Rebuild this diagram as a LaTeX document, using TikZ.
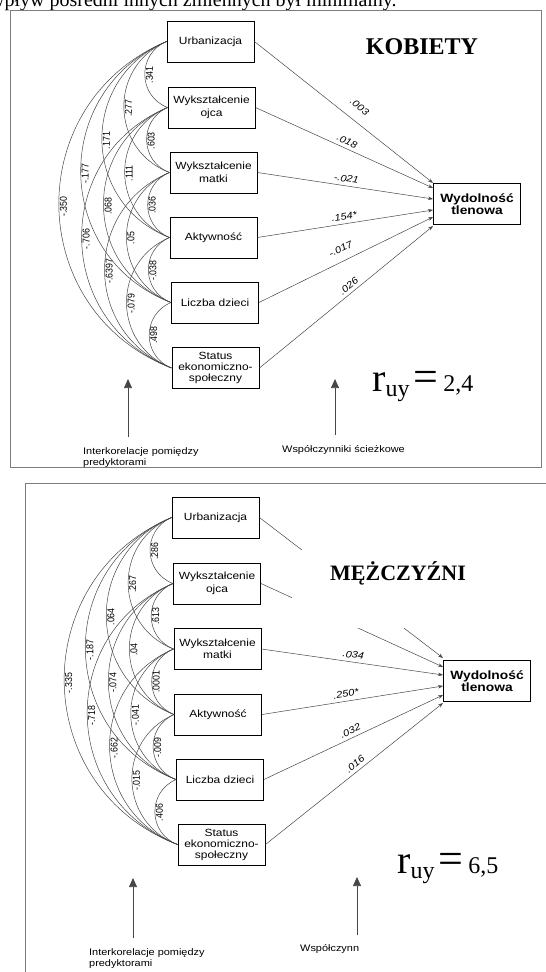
\documentclass[tikz,border=0pt]{standalone}
\usepackage{fontspec}
\setmainfont{Liberation Serif}
\newfontfamily\diagfont[FakeStretch=1.15]{Liberation Sans}
\newfontfamily\vertfont[FakeStretch=0.88]{Liberation Sans}
\usetikzlibrary{arrows.meta}

\begin{document}
\begin{tikzpicture}[x=1pt, y=1pt]
    % --- GLOBAL DEFINITIONS ---
    \def\bw{87} % box width
    \def\bh{41} % box height

    % Custom colors
    \definecolor{framegray}{RGB}{125,125,125}
    \definecolor{linegray}{RGB}{70,70,70}

    \tikzset{
        varbox/.style={draw, line width=0.9pt, minimum width=\bw pt, minimum height=\bh pt, inner sep=1pt, align=center, font=\diagfont\fontsize{10.4}{12.5}\selectfont},
        outbox/.style={varbox, font=\diagfont\bfseries\fontsize{12}{12.5}\selectfont},
        corr/.style={draw=linegray, line width=0.5pt, bend right=68, looseness=1.24},
        clab/.style={midway, anchor=north, rotate=90, inner sep=0.8pt, font=\vertfont\fontsize{10}{10}\selectfont},
        pathline/.style={draw=linegray, line width=0.5pt, -{Stealth[length=5pt, width=3.5pt]}},
        plab/.style={sloped, above=3pt, inner sep=0.5pt, font=\diagfont\itshape\fontsize{9.5}{10}\selectfont},
        noteline/.style={draw=linegray, line width=0.7pt, -{Triangle[length=9pt, width=8pt]}},
        note/.style={align=left, anchor=north west, inner sep=0pt, font=\diagfont\fontsize{9.5}{11}\selectfont},
        sextitle/.style={inner sep=0pt, font=\bfseries\fontsize{24}{24}\selectfont}
    }
    \newcommand\ruy[1]{\fontsize{40}{40}\selectfont r\raisebox{-5pt}{\fontsize{24}{24}\selectfont uy}\kern4pt{\fontsize{44}{44}\selectfont =}\kern5pt\fontsize{24}{24}\selectfont #1}

    \useasboundingbox (0,0) rectangle (546,-972);
    \clip (0,0) rectangle (546,-972);

    % page text cut off above the figure
    \node[anchor=base west, inner sep=0pt, font=\fontsize{20}{20}\selectfont] (head) at (-10,-6) {wpływ pośredni innych zmiennych był minimalny.};

    % frames
    \draw[framegray, line width=0.8pt] (10,-10) rectangle (541,-467);
    \draw[framegray, line width=0.8pt] (546,-483) -- (25,-483) -- (25,-990);

    % KOBIETY
    \node[varbox] (kUrb) at (210.5,-41.5) {Urbanizacja};
    \node[varbox] (kOjc) at (211.5,-107.5) {Wykształcenie\\ojca};
    \node[varbox] (kMat) at (213.5,-172.5) {Wykształcenie\\matki};
    \node[varbox] (kAkt) at (213.5,-237.5) {Aktywność};
    \node[varbox] (kLic) at (215,-302.5) {Liczba dzieci};
    \node[varbox] (kSta) at (215.5,-368) {Status\\[-1.5pt]ekonomiczno-\\[-1.5pt]społeczny};
    \node[outbox] (kWyd) at (477,-204) {Wydolność\\tlenowa};
    \node[sextitle] (kTitle) at (422,-47) {KOBIETY};

    \draw[corr] (kUrb.west) to node[clab] {.341} (kOjc.west);
    \draw[corr] (kOjc.west) to node[clab] {.603} (kMat.west);
    \draw[corr] (kMat.west) to node[clab] {.036} (kAkt.west);
    \draw[corr] (kAkt.west) to node[clab] {-.038} (kLic.west);
    \draw[corr] (kLic.west) to node[clab] {.498} (kSta.west);
    \draw[corr] (kUrb.west) to node[clab] {.277} (kMat.west);
    \draw[corr] (kOjc.west) to node[clab] {.111} (kAkt.west);
    \draw[corr] (kMat.west) to node[clab] {.05} (kLic.west);
    \draw[corr] (kAkt.west) to node[clab] {-.079} (kSta.west);
    \draw[corr] (kUrb.west) to node[clab] {.171} (kAkt.west);
    \draw[corr] (kOjc.west) to node[clab] {.068} (kLic.west);
    \draw[corr] (kMat.west) to node[clab] {-.6397} (kSta.west);
    \draw[corr] (kUrb.west) to node[clab] {-.177} (kLic.west);
    \draw[corr] (kOjc.west) to node[clab] {-.706} (kSta.west);
    \draw[corr] (kUrb.west) to node[clab] {-.350} (kSta.west);

    \draw[pathline] (kUrb.east) -- node[plab, pos=0.54, above=7pt] {.003} ([yshift=21pt]kWyd.west);
    \draw[pathline] (kOjc.east) -- node[plab, pos=0.5] {.018} ([yshift=16pt]kWyd.west);
    \draw[pathline] (kMat.east) -- node[plab, pos=0.5] {-.021} ([yshift=5pt]kWyd.west);
    \draw[pathline] (kAkt.east) -- node[plab, pos=0.5] {.154*} ([yshift=-6pt]kWyd.west);
    \draw[pathline] (kLic.east) -- node[plab, pos=0.5, above=5pt] {-.017} ([yshift=-13pt]kWyd.west);
    \draw[pathline] (kSta.east) -- node[plab, pos=0.54] {.026} ([yshift=-22pt]kWyd.west);

    \node[anchor=base west, inner sep=0pt] (kRuy) at (372,-391) {\ruy{2,4}};

    \node[note] (kNoteL) at (83,-447) {Interkorelacje pomiędzy\\predyktorami};
    \node[note] (kNoteR) at (282,-445.5) {Współczynniki ścieżkowe};
    \coordinate (kFootL) at (128,-437);
    \coordinate (kTipL) at (128,-379);
    \coordinate (kFootR) at (335,-435);
    \coordinate (kTipR) at (335,-379);
    \draw[noteline] (kFootL) -- (kTipL);
    \draw[noteline] (kFootR) -- (kTipR);

    % MEZCZYZNI
    \node[varbox] (mUrb) at (215.5,-517.5) {Urbanizacja};
    \node[varbox] (mOjc) at (217,-583.5) {Wykształcenie\\ojca};
    \node[varbox] (mMat) at (217.5,-649) {Wykształcenie\\matki};
    \node[varbox] (mAkt) at (218,-714.5) {Aktywność};
    \node[varbox] (mLic) at (220,-779.5) {Liczba dzieci};
    \node[varbox] (mSta) at (221.5,-844.5) {Status\\[-1.5pt]ekonomiczno-\\[-1.5pt]społeczny};
    \node[outbox] (mWyd) at (487,-681) {Wydolność\\tlenowa};

    \draw[corr] (mUrb.west) to node[clab] {.286} (mOjc.west);
    \draw[corr] (mOjc.west) to node[clab] {.613} (mMat.west);
    \draw[corr] (mMat.west) to node[clab] {.0001} (mAkt.west);
    \draw[corr] (mAkt.west) to node[clab] {-.009} (mLic.west);
    \draw[corr] (mLic.west) to node[clab] {.406} (mSta.west);
    \draw[corr] (mUrb.west) to node[clab] {.267} (mMat.west);
    \draw[corr] (mOjc.west) to node[clab] {.04} (mAkt.west);
    \draw[corr] (mMat.west) to node[clab] {-.041} (mLic.west);
    \draw[corr] (mAkt.west) to node[clab] {-.015} (mSta.west);
    \draw[corr] (mUrb.west) to node[clab] {.064} (mAkt.west);
    \draw[corr] (mOjc.west) to node[clab] {-.074} (mLic.west);
    \draw[corr] (mMat.west) to node[clab] {-.662} (mSta.west);
    \draw[corr] (mUrb.west) to node[clab] {-.187} (mLic.west);
    \draw[corr] (mOjc.west) to node[clab] {-.718} (mSta.west);
    \draw[corr] (mUrb.west) to node[clab] {-.335} (mSta.west);

    \draw[pathline] (mUrb.east) -- ([yshift=23pt]mWyd.west);
    \draw[pathline] (mOjc.east) -- ([yshift=14pt]mWyd.west);
    \draw[pathline] (mMat.east) -- node[plab, pos=0.5] {.034} ([yshift=6pt]mWyd.west);
    \draw[pathline] (mAkt.east) -- node[plab, pos=0.47] {.250*} ([yshift=-5pt]mWyd.west);
    \draw[pathline] (mLic.east) -- node[plab, pos=0.5] {.032} ([yshift=-14pt]mWyd.west);
    \draw[pathline] (mSta.east) -- node[plab, pos=0.53] {.016} ([yshift=-22pt]mWyd.west);

    % white title panel laid over the upper paths
    \fill[white] (292,-550) rectangle (487,-628);
    \node[sextitle, font=\bfseries\fontsize{22}{22}\selectfont] (mTitle) at (398,-573) {MĘŻCZYŹNI};

    \node[anchor=base west, inner sep=0pt] (mRuy) at (397,-873) {\ruy{6,5}};

    \node[note] (mNoteL) at (89,-948) {Interkorelacje pomiędzy\\predyktorami};
    \node[note] (mNoteR) at (300,-944.5) {Współczynn};
    \coordinate (mFootL) at (133,-938);
    \coordinate (mTipL) at (133,-878);
    \coordinate (mFootR) at (357,-935);
    \coordinate (mTipR) at (357,-877);
    \draw[noteline] (mFootL) -- (mTipL);
    \draw[noteline] (mFootR) -- (mTipR);
\end{tikzpicture}
\end{document}
